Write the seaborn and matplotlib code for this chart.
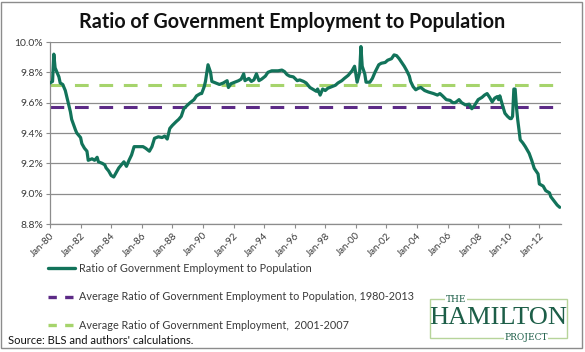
import numpy as np
import pandas as pd
import seaborn as sns
import matplotlib.pyplot as plt
from matplotlib.patches import Rectangle
from matplotlib.lines import Line2D

# months counted from Jan-1980 (percent)
months = [0, 2, 3, 4, 7, 8, 10, 12, 14, 16, 17, 20, 21, 24, 25, 27, 29, 30, 33, 35,
          37, 38, 41, 43, 44, 46, 48, 50, 52, 54, 56, 58, 60, 62, 64, 66, 69, 73, 75, 78,
          80, 82, 85, 88, 90, 92, 94, 96, 99, 101, 103, 105, 108, 110, 113, 115, 118, 119, 121, 122,
          124, 126, 127, 130, 133, 136, 139, 140, 142, 145, 148, 150, 152, 153, 156, 158, 160, 162, 164, 166,
          169, 171, 174, 176, 179, 182, 184, 186, 188, 191, 194, 196, 199, 201, 204, 207, 209, 210, 212, 214,
          216, 218, 221, 224, 226, 229, 231, 234, 237, 239, 240, 241, 243, 244, 245, 247, 248, 251, 253, 255,
          258, 260, 263, 265, 268, 270, 272, 274, 276, 278, 280, 282, 283, 285, 287, 289, 291, 294, 297, 301,
          304, 306, 308, 311, 314, 316, 318, 321, 323, 326, 329, 331, 333, 336, 339, 341, 343, 345, 347, 349,
          351, 352, 353, 355, 357, 359, 361, 362, 363, 364, 365, 366, 367, 369, 371, 373, 376, 378, 380, 383,
          384, 387, 389, 392, 393, 396, 398, 400]
ratio = [9.73, 9.74, 9.92, 9.83, 9.77, 9.73, 9.72, 9.68, 9.61, 9.54, 9.49, 9.42, 9.40, 9.37, 9.33, 9.30, 9.28, 9.22, 9.23, 9.22,
         9.24, 9.21, 9.20, 9.19, 9.17, 9.15, 9.12, 9.11, 9.14, 9.17, 9.19, 9.21, 9.18, 9.22, 9.255, 9.31, 9.31, 9.31, 9.30, 9.28,
         9.31, 9.365, 9.375, 9.37, 9.38, 9.36, 9.43, 9.45, 9.475, 9.49, 9.51, 9.56, 9.585, 9.60, 9.62, 9.645, 9.66, 9.66, 9.705, 9.74,
         9.85, 9.80, 9.74, 9.73, 9.72, 9.73, 9.745, 9.70, 9.725, 9.735, 9.745, 9.755, 9.79, 9.745, 9.76, 9.74, 9.75, 9.79, 9.745, 9.755,
         9.775, 9.80, 9.81, 9.81, 9.81, 9.815, 9.805, 9.785, 9.775, 9.77, 9.745, 9.75, 9.74, 9.73, 9.70, 9.685, 9.675, 9.69, 9.65, 9.69,
         9.68, 9.695, 9.705, 9.715, 9.73, 9.745, 9.76, 9.78, 9.81, 9.84, 9.79, 9.735, 9.80, 9.97, 9.84, 9.79, 9.735, 9.735, 9.76, 9.80,
         9.85, 9.86, 9.865, 9.88, 9.89, 9.915, 9.91, 9.89, 9.865, 9.84, 9.81, 9.775, 9.74, 9.705, 9.685, 9.695, 9.70, 9.68, 9.67, 9.66,
         9.65, 9.66, 9.645, 9.62, 9.615, 9.60, 9.60, 9.62, 9.60, 9.585, 9.59, 9.56, 9.58, 9.62, 9.635, 9.65, 9.66, 9.635, 9.605, 9.63,
         9.64, 9.62, 9.645, 9.585, 9.53, 9.51, 9.495, 9.495, 9.51, 9.69, 9.69, 9.575, 9.49, 9.355, 9.335, 9.31, 9.266, 9.22, 9.167, 9.13,
         9.064, 9.05, 9.02, 9.005, 8.98, 8.947, 8.925, 8.91]

avg_1980_2013 = 9.57
avg_2001_2007 = 9.715

tick_months = list(range(0, 400, 24))
tick_labels = ['Jan-80', 'Jan-82', 'Jan-84', 'Jan-86', 'Jan-88', 'Jan-90', 'Jan-92', 'Jan-94',
               'Jan-96', 'Jan-98', 'Jan-00', 'Jan-02', 'Jan-04', 'Jan-06', 'Jan-08', 'Jan-10', 'Jan-12']
y_ticks = [8.8, 9.0, 9.2, 9.4, 9.6, 9.8, 10.0]

label_main = 'Ratio of Government Employment to Population'
label_avg1 = 'Average Ratio of Government Employment to Population, 1980-2013'
label_avg2 = 'Average Ratio of Government Employment,  2001-2007'

df = pd.DataFrame({'month': months, 'ratio': ratio})

sns.set_style('white')
plt.rcParams['font.family'] = ['Lato', 'DejaVu Sans']

c_main = '#12735a'
c_purple = '#5c2a86'
c_lgreen = '#a6d46c'
c_text = '#3a3a3a'

fig = plt.figure(figsize=(5.85, 3.52), dpi=100)
ax = fig.add_axes([50 / 585, 1 - 224 / 352, 511 / 585, 182 / 352])

ax.axhline(avg_2001_2007, color=c_lgreen, lw=2.2, dashes=(4.5, 3.5), zorder=2)
ax.axhline(avg_1980_2013, color=c_purple, lw=2.2, dashes=(4.5, 3.5), zorder=2)
sns.lineplot(data=df, x='month', y='ratio', ax=ax, color=c_main, lw=2.3, zorder=3)

ax.set_xlim(0, 401)
ax.set_ylim(8.8, 10.0)
ax.set_yticks(y_ticks)
ax.set_yticklabels([f'{v:.1f}%' for v in y_ticks], fontsize=7.5, color=c_text)
ax.set_xticks(tick_months)
ax.set_xticklabels(tick_labels, rotation=45, ha='right', rotation_mode='anchor',
                   fontsize=7, color=c_text)
ax.set_xlabel('')
ax.set_ylabel('')
ax.grid(axis='y', color='#8c8c8c', lw=0.9)
ax.set_axisbelow(True)
for s in ['top', 'right']:
    ax.spines[s].set_visible(False)
for s in ['left', 'bottom']:
    ax.spines[s].set_color('#8c8c8c')
    ax.spines[s].set_linewidth(0.9)
ax.tick_params(axis='both', which='both', length=3, color='#8c8c8c', pad=2,
               bottom=True, left=True)

fig.text(0.5, 1 - 22 / 352, 'Ratio of Government Employment to Population',
         ha='center', va='center', fontsize=14.2, fontweight='bold', color='#111111')

handles = [Line2D([], [], color=c_main, lw=2.4),
           Line2D([], [], color=c_purple, lw=2.4, dashes=(2.5, 2.5)),
           Line2D([], [], color=c_lgreen, lw=2.4, dashes=(2.5, 2.5))]
fig.legend(handles, [label_main, label_avg1, label_avg2], loc='upper left',
           bbox_to_anchor=(38 / 585, 1 - 253 / 352), frameon=False, fontsize=7.8,
           handlelength=2.5, handletextpad=0.4, labelspacing=1.62, labelcolor=c_text)

fig.text(8 / 585, 1 - 341 / 352, "Source: BLS and authors' calculations.",
         ha='left', va='center', fontsize=8, color='#111111')

# Hamilton Project logo
logo_green = '#1d5e48'
fig.patches.append(Rectangle((430 / 585, 1 - 338 / 352), 137 / 585, 39 / 352,
                             transform=fig.transFigure, fill=False,
                             edgecolor='#b7d49a', lw=1.0))
fig.text(456 / 585, 1 - 299 / 352, 'THE', ha='center', va='center', fontsize=6.5,
         family='DejaVu Serif', color=logo_green,
         bbox=dict(facecolor='white', edgecolor='none', pad=0.5))
fig.text(498 / 585, 1 - 318 / 352, 'HAMILTON', ha='center', va='center', fontsize=19,
         family='Liberation Serif', color=logo_green)
fig.text(526 / 585, 1 - 338 / 352, 'PROJECT', ha='center', va='center', fontsize=6.5,
         family='DejaVu Serif', color=logo_green,
         bbox=dict(facecolor='white', edgecolor='none', pad=0.5))

# outer frame
fig.patches.append(Rectangle((1 / 585, 1 - 348 / 352), 581 / 585, 346 / 352,
                             transform=fig.transFigure, fill=False,
                             edgecolor='#8c8c8c', lw=1.0))

fig.savefig('out.png', dpi=100)
